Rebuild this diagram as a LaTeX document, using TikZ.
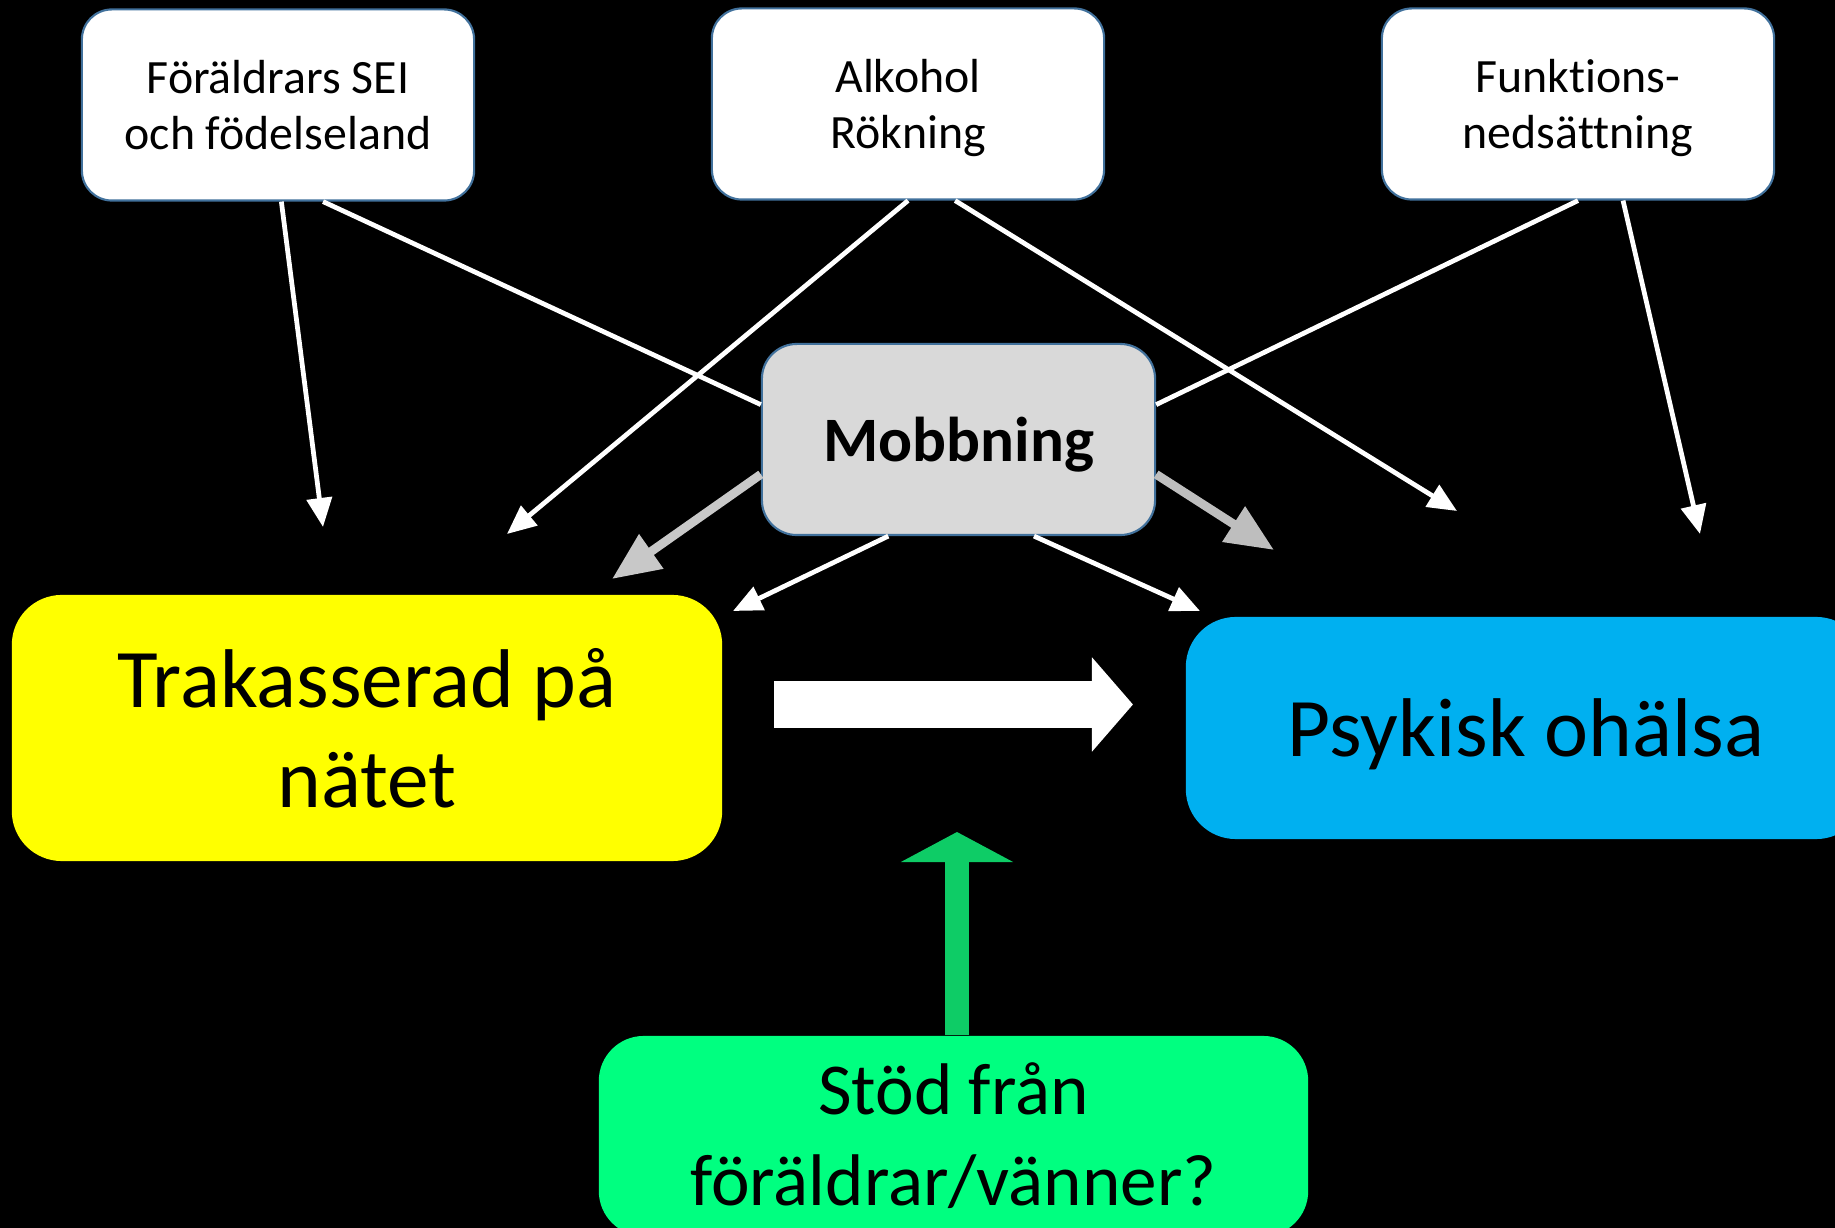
\documentclass[tikz,border=0pt]{standalone}
\usepackage{fontspec}
\setmainfont{Carlito}[Ligatures=NoCommon]
\usetikzlibrary{arrows.meta}

\definecolor{boxline}{RGB}{65,113,156}
\definecolor{mobgray}{RGB}{217,217,217}
\definecolor{tipgray}{RGB}{200,200,200}
\definecolor{harassyellow}{RGB}{255,255,0}
\definecolor{healthblue}{RGB}{0,176,240}
\definecolor{supportgreen}{RGB}{0,255,128}
\definecolor{liftgreen}{RGB}{14,204,102}

\begin{document}
\begin{tikzpicture}[
    x=0.01cm, y=-0.01cm,
    factor/.style={rectangle, draw=boxline, line width=0.6pt, fill=white, minimum width=3.92cm, minimum height=1.91cm, align=center, text depth=0pt, rounded corners=0.3cm, font=\fontsize{13.6pt}{16pt}\selectfont},
    mediator/.style={rectangle, draw=boxline, line width=0.6pt, fill=mobgray, minimum width=3.93cm, minimum height=1.91cm, align=center, text depth=0pt, rounded corners=0.35cm, font=\fontsize{18pt}{22pt}\selectfont\bfseries},
    outcome/.style={rectangle, align=center, rounded corners=0.5cm, font=\fontsize{23.7pt}{28.5pt}\selectfont},
    link/.style={-{Triangle[length=0.29cm, width=0.25cm]}, white, line width=1.35pt},
    plain/.style={white, line width=1.35pt},
    heavy/.style={-{Triangle[length=0.48cm, width=0.4cm]}, tipgray, line width=2.5pt}
]
% background and page size
\fill[black] (0,0) rectangle (1835,1228);
\useasboundingbox (0,0) rectangle (1835,1228);

% top row
\node[factor] (foraldrar) at (278,105) {Föräldrars SEI\\och födelseland};
\node[factor] (alkohol) at (908,104) {Alkohol\\Rökning};
\node[factor] (funktion) at (1578,104) {Funktions-\\nedsättning};

% middle
\node[mediator] (mobbning) at (958.5,439.5) {Mobbning};
\node[outcome, fill=harassyellow, minimum width=7.1cm, minimum height=2.66cm] (trakasserad) at (367,728) {Trakasserad på\\nätet};
\node[outcome, fill=healthblue, minimum width=6.8cm, minimum height=2.22cm, text depth=0pt] (psykisk) at (1526,728) {Psykisk ohälsa};

% bottom
\node[outcome, fill=supportgreen, minimum width=7.09cm, minimum height=2cm, rounded corners=0.45cm, font=\fontsize{20.8pt}{25.8pt}\selectfont] (stod) at (953.5,1136) {Stöd från\\föräldrar/vänner?};

% free ends
\coordinate (t1) at (323,527);
\coordinate (t2) at (507,534);
\coordinate (t3) at (1457,511);
\coordinate (t4) at (1700,534);
\coordinate (g1) at (612,579);
\coordinate (g2) at (1274,550);
\coordinate (w1) at (733,611);
\coordinate (w2) at (1200,611);
\coordinate (flowa) at (774,704.5);
\coordinate (flowb) at (1133,704.5);
\coordinate (lift) at (957,832);

% connectors
\draw[link] (foraldrar.-88) -- (t1);
\draw[plain] (foraldrar.-65) -- (mobbning.170);
\draw[link] (alkohol.south) -- (t2);
\draw[link] (alkohol.-64) -- (t3);
\draw[plain] (funktion.south) -- (mobbning.10);
\draw[link] (funktion.-65) -- (t4);
\draw[heavy] (mobbning.190) -- (g1);
\draw[heavy, color=tipgray!95!black] (mobbning.-10) -- (g2);
\draw[link] (mobbning.234) -- (w1);
\draw[link] (mobbning.-52) -- (w2);

% main effect and support
\draw[white, line width=0.47cm, -{Triangle[length=0.41cm, width=0.92cm]}] (flowa) -- (flowb);
\draw[liftgreen, line width=0.23cm, -{Triangle[length=0.3cm, width=1.11cm]}] (stod.north -| lift) -- (lift);
\end{tikzpicture}
\end{document}
